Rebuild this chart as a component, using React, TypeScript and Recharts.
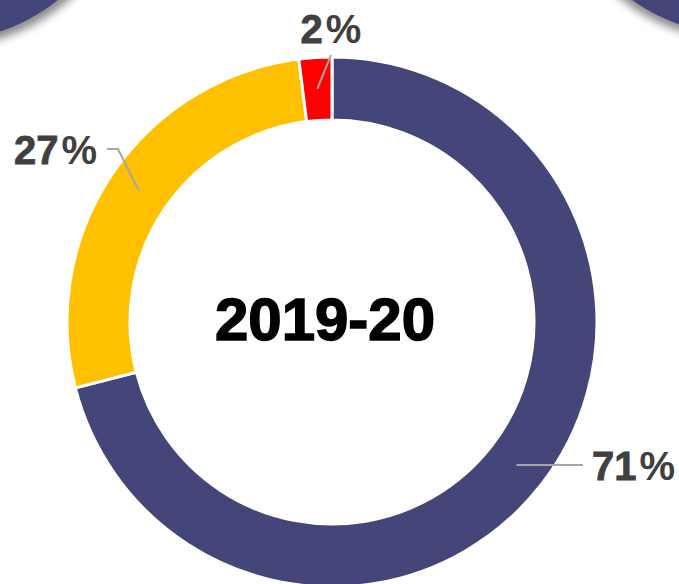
import { Pie, PieChart, Cell } from 'recharts';

// shares of the 2019-20 total, clockwise from 12 o'clock
const segments = ['Navy share', 'Yellow share', 'Red share'];
const shares = [71, 27, 2];
const segmentColors = ['#44467A', '#FFC000', '#FF0000'];
const periodLabel = '2019-20';

// elbow of each leader line, measured from the pie centre, and where the text sits
const labelLayout = [
  { ex: 251, ey: null as number | null, tail: 0, anchor: 'start', tx: 9, ty: 15 },
  { ex: -214, ey: -173, tail: -11, anchor: 'end', tx: -10, ty: 15 },
  { ex: -1, ey: -267, tail: 0, anchor: 'middle', tx: 0, ty: -12 },
];

const data = segments.map((name, i) => ({ name, value: shares[i] }));

const RAD = Math.PI / 180;

function renderLabel(props: any) {
  const { cx, cy, midAngle, innerRadius, outerRadius, index } = props;
  const layout = labelLayout[index];
  const mid = (innerRadius + outerRadius) / 2;
  const sx = cx + mid * Math.cos(-midAngle * RAD);
  const sy = cy + mid * Math.sin(-midAngle * RAD);
  const ex = cx + layout.ex;
  const ey = layout.ey === null ? sy : cy + layout.ey;
  const tx = ex + layout.tail;
  return (
    <g key={`lbl-${index}`}>
      <polyline
        points={`${sx},${sy} ${ex},${ey} ${tx},${ey}`}
        fill="none"
        stroke="#A6A6A6"
        strokeWidth={2}
      />
      <text
        x={tx + layout.tx}
        y={ey + layout.ty}
        textAnchor={layout.anchor as any}
        fill="#404040"
        stroke="#404040"
        strokeWidth={0.8}
        fontFamily="'Liberation Sans', Arial, sans-serif"
        fontSize={40}
        fontWeight={700}
      >
        {shares[index]}
        <tspan dx={3} strokeWidth={0}>%</tspan>
      </text>
    </g>
  );
}

export default function App() {
  return (
    <div
      style={{
        position: 'absolute',
        left: 0,
        top: 0,
        width: 679,
        height: 584,
        overflow: 'hidden',
        background: '#fff',
      }}
    >
      <div
        style={{
          position: 'absolute',
          left: -258,
          top: -348,
          width: 390,
          height: 390,
          borderRadius: '50%',
          background: '#44467A',
          boxShadow: '4px 6px 8px rgba(0,0,0,0.45)',
        }}
      />
      <div
        style={{
          position: 'absolute',
          left: 552,
          top: -345,
          width: 380,
          height: 380,
          borderRadius: '50%',
          background: '#44467A',
          boxShadow: '-2px 6px 8px rgba(0,0,0,0.45)',
        }}
      />
      <div style={{ position: 'absolute', left: 0, top: 0 }}>
        <PieChart width={679} height={584} margin={{ top: 0, right: 0, bottom: 0, left: 0 }}>
          <Pie
            data={data}
            dataKey="value"
            nameKey="name"
            cx={332}
            cy={322}
            innerRadius={202}
            outerRadius={265}
            startAngle={90}
            endAngle={-270}
            stroke="#fff"
            strokeWidth={3}
            label={renderLabel}
            labelLine={false}
            isAnimationActive={false}
          >
            {data.map((d, i) => (
              <Cell key={d.name} fill={segmentColors[i]} />
            ))}
          </Pie>
          <text
            x={325}
            y={340}
            textAnchor="middle"
            fill="#000"
            stroke="#000"
            strokeWidth={1.5}
            fontFamily="'Liberation Sans', Arial, sans-serif"
            fontSize={60}
            fontWeight={700}
          >
            {periodLabel}
          </text>
        </PieChart>
      </div>
    </div>
  );
}
